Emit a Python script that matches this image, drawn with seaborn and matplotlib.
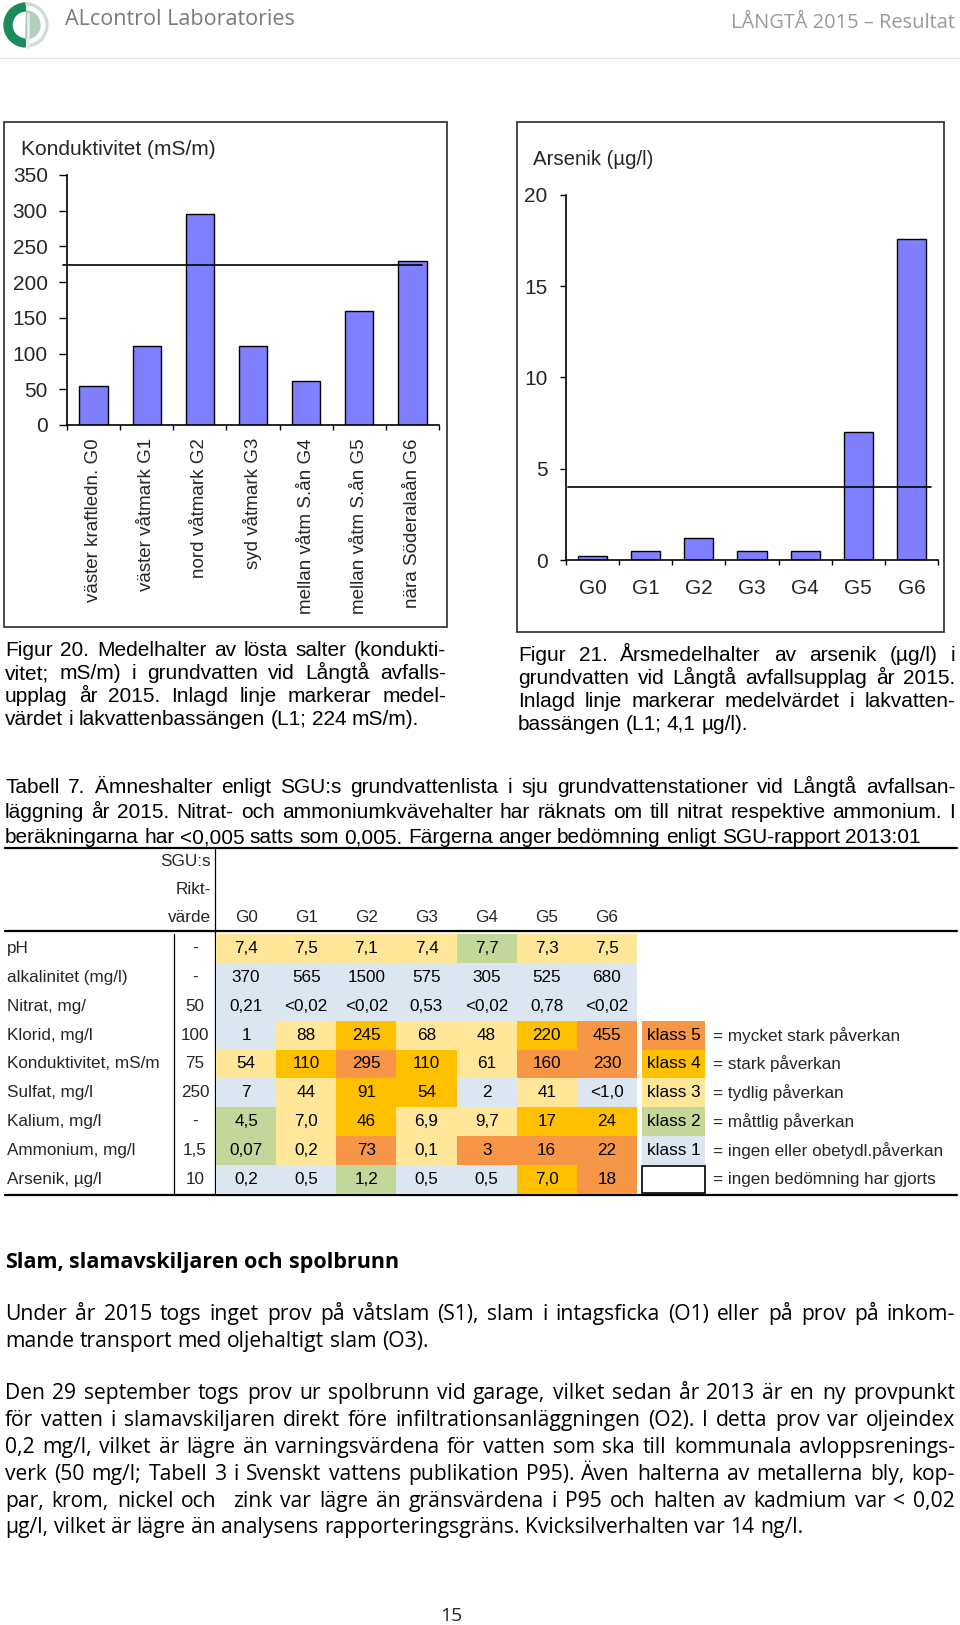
import numpy as np
import matplotlib
matplotlib.use("Agg")
import matplotlib.pyplot as plt
from matplotlib.colors import ListedColormap
from matplotlib.patches import Rectangle, Wedge
import seaborn as sns

# chart data
cond_labels = ["väster kraftledn. G0", "väster våtmark G1", "nord våtmark G2", "syd våtmark G3",
               "mellan våtm S.ån G4", "mellan våtm S.ån G5", "nära Söderalaån G6"]
cond_values = [54, 110, 295, 110, 61, 160, 230]
cond_mean = 224

ars_labels = ["G0", "G1", "G2", "G3", "G4", "G5", "G6"]
ars_values = [0.2, 0.5, 1.2, 0.5, 0.5, 7.0, 17.6]
ars_mean = 4.0

# table data
tab_rows = ["pH", "alkalinitet (mg/l)", "Nitrat, mg/", "Klorid, mg/l", "Konduktivitet, mS/m",
            "Sulfat, mg/l", "Kalium, mg/l", "Ammonium, mg/l", "Arsenik, µg/l"]
tab_rikt = ["-", "-", "50", "100", "75", "250", "-", "1,5", "10"]
tab_cols = ["G0", "G1", "G2", "G3", "G4", "G5", "G6"]
tab_values = [
    ["7,4", "7,5", "7,1", "7,4", "7,7", "7,3", "7,5"],
    ["370", "565", "1500", "575", "305", "525", "680"],
    ["0,21", "<0,02", "<0,02", "0,53", "<0,02", "0,78", "<0,02"],
    ["1", "88", "245", "68", "48", "220", "455"],
    ["54", "110", "295", "110", "61", "160", "230"],
    ["7", "44", "91", "54", "2", "41", "<1,0"],
    ["4,5", "7,0", "46", "6,9", "9,7", "17", "24"],
    ["0,07", "0,2", "73", "0,1", "3", "16", "22"],
    ["0,2", "0,5", "1,2", "0,5", "0,5", "7,0", "18"],
]
tab_class = [
    [3, 3, 3, 3, 2, 3, 3],
    [1, 1, 1, 1, 1, 1, 1],
    [1, 1, 1, 1, 1, 1, 1],
    [1, 3, 4, 3, 3, 4, 5],
    [3, 4, 5, 4, 3, 5, 5],
    [1, 3, 4, 4, 1, 3, 1],
    [2, 3, 4, 3, 3, 4, 4],
    [2, 3, 5, 3, 5, 5, 5],
    [1, 1, 2, 1, 1, 4, 5],
]
legend_class = [5, 4, 3, 2, 1]
legend_text = ["= mycket stark påverkan", "= stark påverkan", "= tydlig påverkan",
               "= måttlig påverkan", "= ingen eller obetydl.påverkan"]
class_colors = ["#dce6f1", "#c4d79b", "#ffe699", "#ffc000", "#f79646"]

# page text
cap20 = ["Figur 20. Medelhalter av lösta salter (kondukti-",
         "vitet; mS/m) i grundvatten vid Långtå avfalls-",
         "upplag år 2015. Inlagd linje markerar medel-",
         "värdet i lakvattenbassängen (L1; 224 mS/m)."]
cap21 = ["Figur 21. Årsmedelhalter av arsenik (µg/l) i",
         "grundvatten vid Långtå avfallsupplag år 2015.",
         "Inlagd linje markerar medelvärdet i lakvatten-",
         "bassängen (L1; 4,1 µg/l)."]
cap_tab = ["Tabell 7. Ämneshalter enligt SGU:s grundvattenlista i sju grundvattenstationer vid Långtå avfallsan-",
           "läggning år 2015. Nitrat- och ammoniumkvävehalter har räknats om till nitrat respektive ammonium. I",
           "beräkningarna har <0,005 satts som 0,005. Färgerna anger bedömning enligt SGU-rapport 2013:01"]
para1 = ["Under år 2015 togs inget prov på våtslam (S1), slam i intagsficka (O1) eller på prov på inkom-",
         "mande transport med oljehaltigt slam (O3)."]
para2 = ["Den 29 september togs prov ur spolbrunn vid garage, vilket sedan år 2013 är en ny provpunkt",
         "för vatten i slamavskiljaren direkt före infiltrationsanläggningen (O2). I detta prov var oljeindex",
         "0,2 mg/l, vilket är lägre än varningsvärdena för vatten som ska till kommunala avloppsrenings-",
         "verk (50 mg/l; Tabell 3 i Svenskt vattens publikation P95). Även halterna av metallerna bly, kop-",
         "par, krom, nickel och  zink var lägre än gränsvärdena i P95 och halten av kadmium var < 0,02",
         "µg/l, vilket är lägre än analysens rapporteringsgräns. Kvicksilverhalten var 14 ng/l."]

sns.set_style("white")
plt.rcParams["font.family"] = ["Liberation Sans", "DejaVu Sans"]

W, H = 960, 1625
fig = plt.figure(figsize=(9.6, 16.25), dpi=100)
renderer = fig.canvas.get_renderer()

bg = fig.add_axes([0, 0, 1, 1], zorder=-1)
bg.set_xlim(0, W)
bg.set_ylim(H, 0)
bg.axis("off")


def rect(x0, y0, x1, y1):
    return [x0 / W, 1 - y1 / H, (x1 - x0) / W, (y1 - y0) / H]


def put_line(line, x0, x1, yb, size, family, justify=True, weight="normal", color="black"):
    words = line.split(" ")
    items = [bg.text(0, yb, w, fontsize=size, family=family, weight=weight,
                     color=color, va="baseline", ha="left") for w in words]
    widths = [t.get_window_extent(renderer).width if w else 0 for t, w in zip(items, words)]
    space = size * 0.26 * 100 / 72
    if justify and len(words) > 1:
        gap = max((x1 - x0 - sum(widths)) / (len(words) - 1), space * 0.7)
    else:
        gap = space
    x = x0
    for t, w in zip(items, widths):
        t.set_x(x)
        x += w + gap


def put_para(lines, x0, x1, baselines, size, family):
    for i, (line, yb) in enumerate(zip(lines, baselines)):
        put_line(line, x0, x1, yb, size, family, justify=(i < len(lines) - 1))


sans = ["Liberation Sans", "DejaVu Sans"]
body = ["Open Sans", "DejaVu Sans"]

# header
bg.add_patch(Wedge((26, 25), 22, 92, 268, width=8, color="#1d8a5c"))
bg.add_patch(Wedge((26, 25), 14, -88, 92, color="#b3cfc0"))
bg.add_patch(Wedge((26, 25), 22, -90, 85, width=2, color="#d2dcd6"))
bg.plot([28, 28], [14, 48], color="#e6ece8", lw=2)
bg.text(65, 25, "ALcontrol Laboratories", fontsize=15.5, family=body, color="#7a7a7a", va="baseline")
bg.text(955, 28, "LÅNGTÅ 2015 – Resultat", fontsize=14.4, family=body, color="#9a9a9a",
        va="baseline", ha="right")
bg.plot([0, W], [58, 58], color="#e4e4e4", lw=1)

# chart frames
bg.add_patch(Rectangle((4, 122), 443, 505, fill=False, ec="#3a3a3a", lw=1.3))
bg.add_patch(Rectangle((517, 122), 427, 510, fill=False, ec="#3a3a3a", lw=1.3))

bar_color = "#8080ff"

# Figure 20
ax1 = fig.add_axes(rect(67, 175, 439, 425))
sns.barplot(x=cond_labels, y=cond_values, color=bar_color, saturation=1, edgecolor="black",
            linewidth=1, width=0.53, ax=ax1)
ax1.axhline(cond_mean, xmin=-0.012, xmax=0.955, color="black", lw=1.2, clip_on=False)
ax1.set_xlim(-0.5, 6.5)
ax1.set_ylim(0, 350)
ax1.set_yticks(range(0, 351, 50))
ax1.set_xticks(np.arange(-0.5, 7, 1), minor=True)
ax1.tick_params(axis="x", which="major", length=0, pad=9.5, labelsize=13.5, rotation=90)
ax1.tick_params(axis="x", which="minor", length=3.6, width=1, direction="out", color="black", bottom=True)
ax1.tick_params(axis="y", length=5.8, width=1, direction="out", color="black", pad=8.0,
                labelsize=15, left=True)
for s in ["top", "right"]:
    ax1.spines[s].set_visible(False)
for s in ["left", "bottom"]:
    ax1.spines[s].set_color("black")
    ax1.spines[s].set_linewidth(1.2)
ax1.set_xlabel("")
ax1.set_ylabel("")
ax1.patch.set_alpha(0)
bg.text(21, 155, "Konduktivitet (mS/m)", fontsize=15, family=sans, va="baseline")

# Figure 21
ax2 = fig.add_axes(rect(566, 195, 938, 560))
sns.barplot(x=ars_labels, y=ars_values, color=bar_color, saturation=1, edgecolor="black",
            linewidth=1, width=0.55, ax=ax2)
ax2.axhline(ars_mean, xmin=0.005, xmax=0.981, color="black", lw=1.2, clip_on=False)
ax2.set_xlim(-0.5, 6.5)
ax2.set_ylim(0, 20)
ax2.set_yticks(range(0, 21, 5))
ax2.set_xticks(np.arange(-0.5, 7, 1), minor=True)
ax2.tick_params(axis="x", which="major", length=0, pad=14, labelsize=15)
ax2.tick_params(axis="x", which="minor", length=3.6, width=1, direction="out", color="black", bottom=True)
ax2.tick_params(axis="y", length=4.3, width=1, direction="out", color="black", pad=9,
                labelsize=15, left=True)
for s in ["top", "right"]:
    ax2.spines[s].set_visible(False)
for s in ["left", "bottom"]:
    ax2.spines[s].set_color("black")
    ax2.spines[s].set_linewidth(1.2)
ax2.set_xlabel("")
ax2.set_ylabel("")
ax2.patch.set_alpha(0)
bg.text(533, 165, "Arsenik (µg/l)", fontsize=14.7, family=sans, va="baseline")

# captions
put_para(cap20, 5, 446, [656, 679, 702, 725], 15, sans)
put_para(cap21, 518, 955, [661, 684, 707, 730], 15, sans)
put_para(cap_tab, 5, 955, [793, 818, 843], 15, sans)

# table
t_top, t_bot, c_left, c_right = 934, 1194, 216, 637
row_h = (t_bot - t_top) / len(tab_rows)
cmap = ListedColormap(class_colors)
axt = fig.add_axes(rect(c_left, t_top, c_right, t_bot))
sns.heatmap(np.array(tab_class), cmap=cmap, vmin=0.5, vmax=5.5, annot=np.array(tab_values), fmt="",
            cbar=False, xticklabels=False, yticklabels=False, linewidths=0, ax=axt,
            annot_kws={"fontsize": 12.3, "color": "black"})

col_w = (c_right - c_left) / len(tab_cols)
for j, c in enumerate(tab_cols):
    bg.text(c_left + (j + 0.5) * col_w, 917, c, fontsize=12.3, family=sans, ha="center", va="center")
for txt, y in zip(["SGU:s", "Rikt-", "värde"], [862, 889, 917]):
    bg.text(211, y, txt, fontsize=12.3, family=sans, ha="right", va="center")
for i, (name, rv) in enumerate(zip(tab_rows, tab_rikt)):
    yc = t_top + (i + 0.5) * row_h
    bg.text(7, yc, name, fontsize=12.3, family=sans, va="center")
    bg.text(195, yc, rv, fontsize=12.3, family=sans, ha="center", va="center")

# legend of classes
axl = fig.add_axes(rect(642, t_top + 3 * row_h, 705, t_top + 8 * row_h))
sns.heatmap(np.array(legend_class).reshape(-1, 1), cmap=cmap, vmin=0.5, vmax=5.5,
            annot=np.array([f"klass {k}" for k in legend_class]).reshape(-1, 1), fmt="",
            cbar=False, xticklabels=False, yticklabels=False, ax=axl,
            annot_kws={"fontsize": 12.3, "color": "black"})
bg.add_patch(Rectangle((642, t_top + 8 * row_h + 1), 63, row_h - 2, fill=False, ec="black", lw=1.2))
for i, txt in enumerate(legend_text):
    bg.text(713, t_top + (i + 3.5) * row_h, txt, fontsize=12.3, family=sans, va="center")
bg.text(713, t_top + 8.5 * row_h, "= ingen bedömning har gjorts", fontsize=12.3, family=sans, va="center")

# table rules
bg.plot([5, 957], [848, 848], color="black", lw=1.6)
bg.plot([5, 957], [931, 931], color="black", lw=1.6)
bg.plot([5, 957], [1195, 1195], color="black", lw=1.6)
bg.plot([174, 174], [934, 1194], color="black", lw=0.9)
bg.plot([215, 215], [849, 1194], color="black", lw=0.9)

# text section
put_line("Slam, slamavskiljaren och spolbrunn", 5, 400, 1268, 15.5, body, justify=False, weight="bold")
put_para(para1, 5, 955, [1320, 1347], 15.2, body)
put_para(para2, 5, 955, [1399, 1426, 1453, 1480, 1507, 1533], 15.2, body)
bg.text(451, 1621, "15", fontsize=14, family=body, ha="center", va="baseline")

fig.savefig("out.png", dpi=100)
